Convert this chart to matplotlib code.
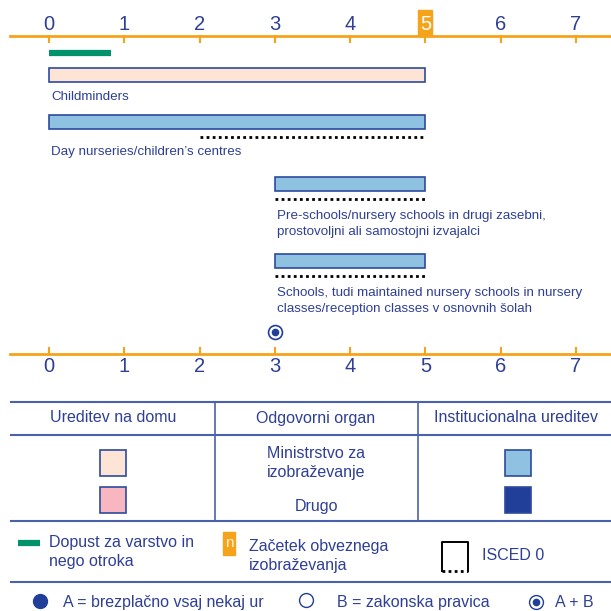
import matplotlib.pyplot as plt
from matplotlib.patches import Rectangle

plt.rcParams['font.family'] = ['Liberation Sans', 'DejaVu Sans']

# data
ages = [0, 1, 2, 3, 4, 5, 6, 7]
compulsory_age = 5
leave = (0, 0.82)
settings = ['Childminders',
            'Day nurseries/children\u2019s centres',
            'Pre-schools/nursery schools in drugi zasebni,\nprostovoljni ali samostojni izvajalci',
            'Schools, tudi maintained nursery schools in nursery\nclasses/reception classes v osnovnih šolah']
start = [0, 0, 3, 3]
end = [5, 5, 5, 5]
isced_start = [None, 2, 3, 3]
kind = ['home', 'inst', 'inst', 'inst']
free_and_right = [3]   # A + B

txt = '#2e3f95'
orange = '#f5a31a'
green = '#00936b'
peach = '#fde4d4'
lblue = '#8fc1e0'
pink = '#f7b6c0'
navy = '#213f99'
edge = '#2e4a9e'
lines = '#4a62ad'

W = 611
fig = plt.figure(figsize=(6.11, 6.11), dpi=100)
ax = fig.add_axes([0, 0, 1, 1])
px = 75.29          # pixels per year
x0 = 49             # pixel of age 0
ax.set_xlim(-x0 / px, (W - x0) / px)
ax.set_ylim(W, 0)
ax.axis('off')

# axes lines
for yl, tdir, ty in [(36, 1, 25), (354, -1, 367)]:
    ax.plot([-39 / px, (W - x0) / px], [yl, yl], color=orange, lw=2, zorder=2)
    for a in ages:
        ax.plot([a, a], [yl, yl + 6 * tdir], color=orange, lw=1.5)
        if a == compulsory_age and tdir == 1:
            ax.add_patch(Rectangle((a - 0.093, 10), 0.186, 26, color=orange, zorder=1))
            c = 'white'
        else:
            c = txt
        ax.text(a, ty, str(a), ha='center', va='center', fontsize=14.5, color=c, zorder=3)

# parental leave
ax.plot(leave, [53, 53], color=green, lw=4.5, solid_capstyle='butt')

# bars
bar_y = [75, 122, 184, 261]
lab_y = [96.5, 152.5, 224, 301]
for i, s in enumerate(settings):
    fc = peach if kind[i] == 'home' else lblue
    ax.add_patch(Rectangle((start[i], bar_y[i] - 7), end[i] - start[i], 14,
                           facecolor=fc, edgecolor=edge, lw=1.2, zorder=3))
    if isced_start[i] is not None:
        ax.plot([isced_start[i], end[i]], [bar_y[i] + 14.5, bar_y[i] + 14.5],
                color='black', lw=2, ls=(0, (1, 1.2)))
    ax.text(start[i] + 0.03, lab_y[i], s, ha='left', va='center', fontsize=9.6,
            color=txt, linespacing=1.45)

for a in free_and_right:
    ax.plot(a, 332, 'o', ms=10, mfc='white', mec=navy, mew=1.2)
    ax.plot(a, 332, 'o', ms=4.5, color=navy)

# legend / table in pixel coordinates
lg = fig.add_axes([0, 0, 1, 1])
lg.set_xlim(0, W)
lg.set_ylim(W, 0)
lg.axis('off')

for yl in [402, 435, 521, 582]:
    lg.plot([11, W], [yl, yl], color=lines, lw=1.5)
for xl in [215, 418]:
    lg.plot([xl, xl], [402, 521], color=lines, lw=1.2)

heads = ['Ureditev na domu', 'Odgovorni organ', 'Institucionalna ureditev']
head_x = [113, 316, 516]
for h, hx in zip(heads, head_x):
    lg.text(hx, 418, h, ha='center', va='center', fontsize=11.5, color=txt)

swatch_home = [peach, pink]
swatch_inst = [lblue, navy]
swatch_y = [463, 500]
for yy, ch, ci in zip(swatch_y, swatch_home, swatch_inst):
    lg.add_patch(Rectangle((100, yy - 13), 26, 26, facecolor=ch, edgecolor=edge, lw=1.2))
    lg.add_patch(Rectangle((505, yy - 13), 26, 26, facecolor=ci, edgecolor=edge, lw=1.2))
lg.text(316, 463, 'Ministrstvo za\nizobraževanje', ha='center', va='center', fontsize=11.5,
        color=txt, linespacing=1.3)
lg.text(316, 511, 'Drugo', ha='center', va='baseline', fontsize=11.5, color=txt)

# legend row
lg.plot([18, 40], [543, 543], color=green, lw=4.5, solid_capstyle='butt')
lg.text(49, 552, 'Dopust za varstvo in\nnego otroka', ha='left', va='center', fontsize=11.5,
        color=txt, linespacing=1.3)
lg.add_patch(Rectangle((223, 532), 12, 23, color=orange))
lg.text(229, 543, 'n', ha='center', va='center', fontsize=11, color='#fff3dc')
lg.text(249, 556, 'Začetek obveznega\nizobraževanja', ha='left', va='center', fontsize=11.5,
        color=txt, linespacing=1.3)
lg.plot([442, 442, 468, 468], [571, 542, 542, 571], color='black', lw=1.4)
lg.plot([442, 468], [571, 571], color='black', lw=2, ls=(0, (1, 1.2)))
lg.text(482, 556, 'ISCED 0', ha='left', va='center', fontsize=11.5, color=txt)

# access legend
lg.plot(40, 601, 'o', ms=10, color=navy)
lg.text(63, 607, 'A = brezplačno vsaj nekaj ur', ha='left', va='baseline', fontsize=11.5, color=txt)
lg.plot(306, 600, 'o', ms=10, mfc='white', mec=navy, mew=1)
lg.text(337, 607, 'B = zakonska pravica', ha='left', va='baseline', fontsize=11.5, color=txt)
lg.plot(536, 602, 'o', ms=10, mfc='white', mec=navy, mew=1)
lg.plot(536, 602, 'o', ms=4.5, color=navy)
lg.text(555, 607, 'A + B', ha='left', va='baseline', fontsize=11.5, color=txt)

fig.savefig('out.png', dpi=100)
